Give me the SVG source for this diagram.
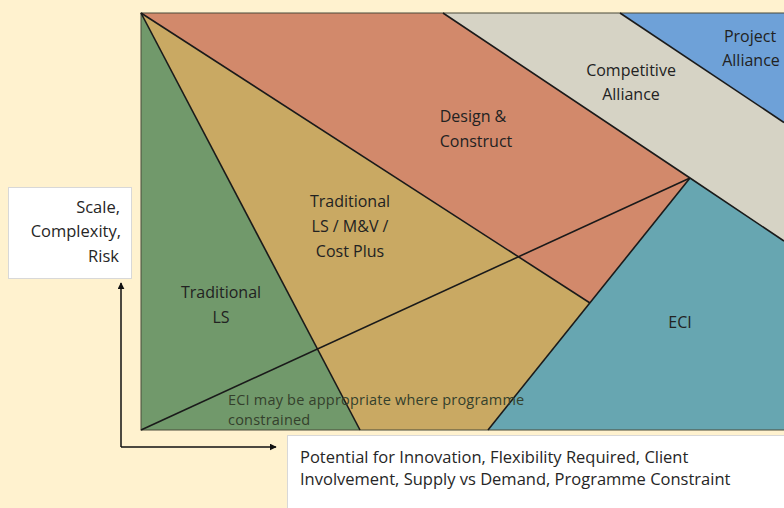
<svg xmlns="http://www.w3.org/2000/svg" width="784" height="508" viewBox="0 0 784 508">
  <defs>
    <marker id="arrow" viewBox="0 0 10 10" refX="9" refY="5" markerWidth="7" markerHeight="7" orient="auto" markerUnits="userSpaceOnUse">
      <path d="M0,0 L10,5 L0,10 z" fill="#111"/>
    </marker>
    <style>
      .lbl { font-family: "Open Sans", "Liberation Sans", sans-serif; font-size: 16px; fill: #222222; text-anchor: middle; }
      .axis { font-family: "Open Sans", "Liberation Sans", sans-serif; font-size: 16.5px; fill: #262626; }
      .note { font-family: "Open Sans", "Liberation Sans", sans-serif; font-size: 14.5px; letter-spacing: 0.2px; fill: #34402c; }
      .edge { stroke: #1a1a1a; stroke-width: 1.6; fill: none; }
      .box { fill: #ffffff; stroke: #d8d8d8; stroke-width: 1; }
    </style>
  </defs>

  <!-- page background -->
  <rect width="784" height="508" fill="#fff2cf"/>

  <!-- procurement regions -->
  <g id="traditional-ls">
    <polygon points="141,13 141,430 360,430" fill="#71996b"/>
  </g>
  <g id="traditional-ls-mv-cost-plus">
    <polygon points="141,13 360,430 488,430 590,303" fill="#c9a963"/>
  </g>
  <g id="design-construct">
    <polygon points="141,13 443,13 690,178 590,303" fill="#d2896b"/>
  </g>
  <g id="competitive-alliance">
    <polygon points="443,13 620,13 784,122.5 784,241 690,178" fill="#d6d3c5"/>
  </g>
  <g id="project-alliance">
    <polygon points="620,13 784,13 784,122.5" fill="#6ea1d8"/>
  </g>
  <g id="eci">
    <polygon points="690,178 784,241 784,430 488,430" fill="#67a6b1"/>
  </g>

  <!-- chart frame -->
  <rect x="141" y="13" width="660" height="417" fill="none" stroke="#4a4a3a" stroke-width="1"/>

  <!-- boundaries between regions, and the two axes -->
  <g id="connectors">
    <line class="edge" x1="141" y1="13" x2="360" y2="430"/>
    <line class="edge" x1="141" y1="13" x2="590" y2="303"/>
    <line class="edge" x1="690" y1="178" x2="488" y2="430"/>
    <line class="edge" x1="141" y1="430" x2="690" y2="178"/>
    <polyline class="edge" points="443,13 690,178 784,241"/>
    <line class="edge" x1="620" y1="13" x2="784" y2="122.5"/>
    <path d="M121,447 L121,283" stroke="#111" stroke-width="1.5" fill="none" marker-end="url(#arrow)"/>
    <path d="M121,447 L276,447" stroke="#111" stroke-width="1.5" fill="none" marker-end="url(#arrow)"/>
  </g>

  <!-- region labels -->
  <g id="label-project-alliance">
    <text class="lbl" x="750" y="42">Project</text>
    <text class="lbl" x="751" y="66">Alliance</text>
  </g>
  <g id="label-competitive-alliance">
    <text class="lbl" x="631" y="76">Competitive</text>
    <text class="lbl" x="631" y="100">Alliance</text>
  </g>
  <g id="label-design-construct">
    <text class="lbl" x="473" y="122">Design &amp;</text>
    <text class="lbl" x="476" y="147">Construct</text>
  </g>
  <g id="label-traditional-mv">
    <text class="lbl" x="350" y="207">Traditional</text>
    <text class="lbl" x="350" y="232">LS / M&amp;V /</text>
    <text class="lbl" x="350" y="257">Cost Plus</text>
  </g>
  <g id="label-traditional-ls">
    <text class="lbl" x="221" y="298">Traditional</text>
    <text class="lbl" x="221" y="323">LS</text>
  </g>
  <g id="label-eci">
    <text class="lbl" x="680" y="328">ECI</text>
  </g>
  <g id="label-eci-note">
    <text class="note" x="228" y="405">ECI may be appropriate where programme</text>
    <text class="note" x="228" y="425">constrained</text>
  </g>

  <!-- vertical axis caption -->
  <g id="y-axis-label">
    <rect class="box" x="8.5" y="187.5" width="123" height="91"/>
    <text class="axis" x="120" y="213" text-anchor="end">Scale,</text>
    <text class="axis" x="121" y="237" text-anchor="end">Complexity,</text>
    <text class="axis" x="119" y="262" text-anchor="end">Risk</text>
  </g>

  <!-- horizontal axis caption -->
  <g id="x-axis-label">
    <rect class="box" x="287.5" y="435.5" width="510" height="80"/>
    <text class="axis" x="300" y="463">Potential for Innovation, Flexibility Required, Client</text>
    <text class="axis" x="300" y="485">Involvement, Supply vs Demand, Programme Constraint</text>
  </g>
</svg>
